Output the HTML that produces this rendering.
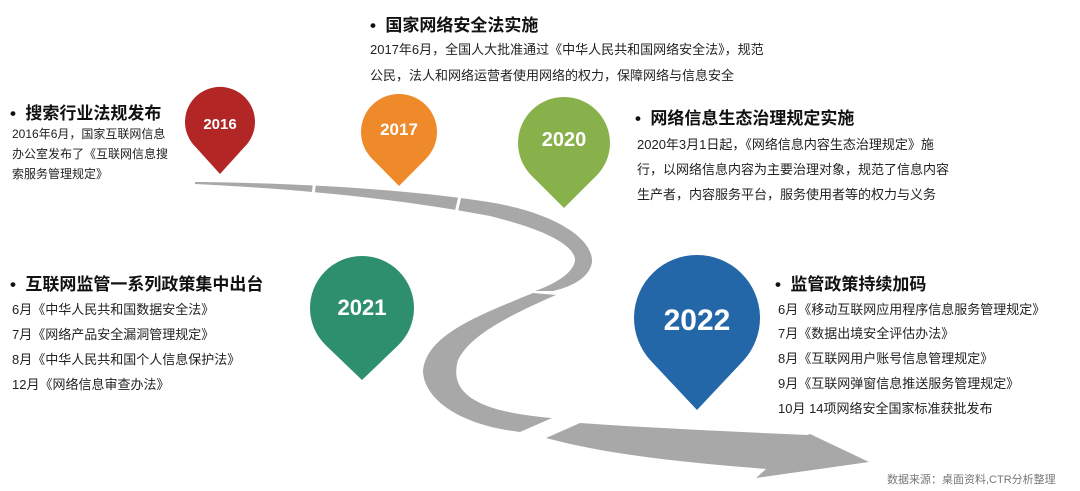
<!DOCTYPE html>
<html><head><meta charset="utf-8"><style>
body{margin:0;width:1080px;height:491px;background:#fff;position:relative;overflow:hidden;font-family:"Liberation Sans","Noto Sans CJK SC",sans-serif;color:#222}
.t{position:absolute;font-weight:bold;font-size:17px;white-space:nowrap;color:#111}
.l{position:absolute;font-size:13px;white-space:nowrap;color:#222}
svg{position:absolute;left:0;top:0}
</style></head><body>
<svg width="1080" height="491">
<g fill="#a8a8a8">
<path d="M195,182 C300,183 420,190 500,204 C560,216 593,240 592,262 C590,276 575,286 553,291 L535,291 C560,282 576,270 575,258 C570,240 530,226 490,216 C400,199 300,189 195,184 Z"/>
<path d="M533,293 L556,295 C510,315 470,335 458,360 C448,395 480,412 552,418 L520,432 C460,425 425,400 423,372 C425,335 480,315 533,293Z"/>
<path d="M580,423 C650,428 740,432 807,435 L810,434 L869,462 L756,478 L766,469 C680,462 610,455 546,438 Z"/>
</g>
<g stroke="#fff" stroke-width="3">
<line x1="315" y1="180" x2="313" y2="195"/><line x1="460" y1="196" x2="456" y2="213"/>
</g>
<path d="M195.7,147.1 A35,35 0 1 1 244.3,147.1 L220,174 Z" fill="#b22626"/>
<path d="M372,158.7 A38,38 0 1 1 426,158.7 L399,186 Z" fill="#ef8a2a"/>
<path d="M531.5,175.6 A46,46 0 1 1 596.5,175.6 L564,208 Z" fill="#88b04b"/>
<path d="M326,345.5 A52,52 0 1 1 398,345.5 L362,380 Z" fill="#2e8f6e"/>
<path d="M651.1,361.1 A63,63 0 1 1 742.9,361.1 L697,410 Z" fill="#2467a8"/>
<g fill="#fff" font-weight="bold" font-family="Liberation Sans,sans-serif" text-anchor="middle">
<text x="220" y="129" font-size="15">2016</text>
<text x="399" y="135" font-size="17">2017</text>
<text x="564" y="146" font-size="20">2020</text>
<text x="362" y="315" font-size="22">2021</text>
<text x="697" y="330" font-size="30">2022</text>
</g>
</svg>
<div class="t" style="left:370px;top:11px">•&nbsp; 国家网络安全法实施</div>
<div class="l" style="left:370px;top:39px">2017年6月，全国人大批准通过《中华人民共和国网络安全法》，规范</div>
<div class="l" style="left:370px;top:65px">公民，法人和网络运营者使用网络的权力，保障网络与信息安全</div>
<div class="t" style="left:10px;top:99px">•&nbsp; 搜索行业法规发布</div>
<div class="l" style="left:12px;top:125px;font-size:12px">2016年6月，国家互联网信息</div>
<div class="l" style="left:12px;top:145px;font-size:12px">办公室发布了《互联网信息搜</div>
<div class="l" style="left:12px;top:165px;font-size:12px">索服务管理规定》</div>
<div class="t" style="left:635px;top:104px">•&nbsp; 网络信息生态治理规定实施</div>
<div class="l" style="left:637px;top:134px">2020年3月1日起，《网络信息内容生态治理规定》施</div>
<div class="l" style="left:637px;top:159px">行，以网络信息内容为主要治理对象，规范了信息内容</div>
<div class="l" style="left:637px;top:184px">生产者，内容服务平台，服务使用者等的权力与义务</div>
<div class="t" style="left:10px;top:270px">•&nbsp; 互联网监管一系列政策集中出台</div>
<div class="l" style="left:12px;top:299px">6月《中华人民共和国数据安全法》</div>
<div class="l" style="left:12px;top:324px">7月《网络产品安全漏洞管理规定》</div>
<div class="l" style="left:12px;top:349px">8月《中华人民共和国个人信息保护法》</div>
<div class="l" style="left:12px;top:374px">12月《网络信息审查办法》</div>
<div class="t" style="left:775px;top:270px">•&nbsp; 监管政策持续加码</div>
<div class="l" style="left:778px;top:299px">6月《移动互联网应用程序信息服务管理规定》</div>
<div class="l" style="left:778px;top:323px">7月《数据出境安全评估办法》</div>
<div class="l" style="left:778px;top:348px">8月《互联网用户账号信息管理规定》</div>
<div class="l" style="left:778px;top:373px">9月《互联网弹窗信息推送服务管理规定》</div>
<div class="l" style="left:778px;top:398px">10月 14项网络安全国家标准获批发布</div>
<div class="l" style="left:887px;top:471px;font-size:11px;color:#777">数据来源：桌面资料,CTR分析整理</div>
</body></html>
